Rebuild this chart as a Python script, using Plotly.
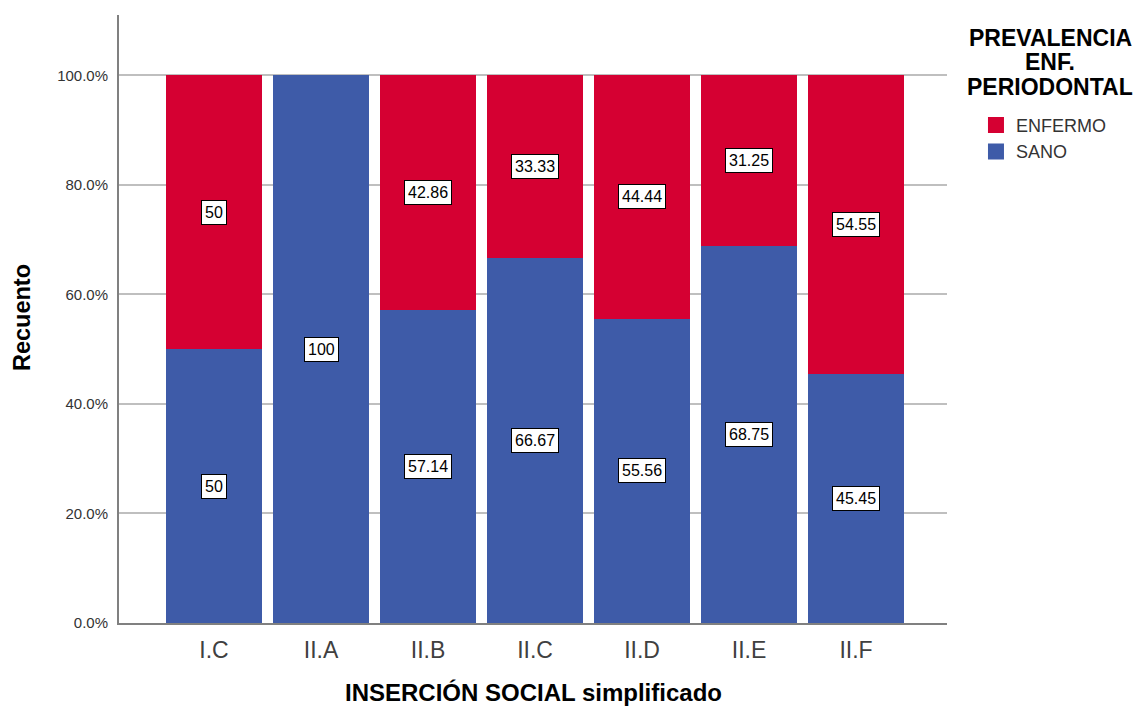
import plotly.graph_objects as go

categories = ["I.C", "II.A", "II.B", "II.C", "II.D", "II.E", "II.F"]
sano = [50, 100, 57.14, 66.67, 55.56, 68.75, 45.45]
enfermo = [50, 0, 42.86, 33.33, 44.44, 31.25, 54.55]
y_ticks = [0, 20, 40, 60, 80, 100]
y_tick_labels = ["0.0%", "20.0%", "40.0%", "60.0%", "80.0%", "100.0%"]
legend_title_lines = ["PREVALENCIA", "ENF.", "PERIODONTAL"]
x_title = "INSERCIÓN SOCIAL simplificado"
y_title = "Recuento"

RED = "#D50032"
BLUE = "#3E5BA8"
FONT = "Liberation Sans, Arial, sans-serif"

fig = go.Figure()
fig.add_trace(go.Bar(x=categories, y=sano, name="SANO", showlegend=False,
                     marker=dict(color=BLUE, line=dict(width=0))))
fig.add_trace(go.Bar(x=categories, y=enfermo, name="ENFERMO", showlegend=False,
                     marker=dict(color=RED, line=dict(width=0))))
# legend entries with larger square swatches
fig.add_trace(go.Scatter(x=[None], y=[None], mode="markers", name="ENFERMO",
                         marker=dict(symbol="square", size=17, color=RED)))
fig.add_trace(go.Scatter(x=[None], y=[None], mode="markers", name="SANO",
                         marker=dict(symbol="square", size=17, color=BLUE)))

annotations = []
for i, c in enumerate(categories):
    s, e = sano[i], enfermo[i]
    for val, ymid in ((s, s / 2), (e, s + e / 2)):
        if val > 0:
            txt = ("%.2f" % val).rstrip("0").rstrip(".")
            annotations.append(dict(
                x=c, y=ymid, xref="x", yref="y", text=txt, showarrow=False,
                font=dict(family=FONT, size=16, color="#000000"),
                bgcolor="white", bordercolor="black", borderwidth=1, borderpad=3,
            ))

for line, yy in zip(legend_title_lines, [0.9622, 0.9227, 0.8816]):
    annotations.append(dict(
        xref="paper", yref="paper", x=1.1244, y=yy, xanchor="center", yanchor="middle",
        text="<b>%s</b>" % line, showarrow=False,
        font=dict(family=FONT, size=23, color="black"),
    ))

annotations.append(dict(
    xref="paper", yref="paper", x=0.5, y=-0.1151, xanchor="center", yanchor="middle",
    text="<b>%s</b>" % x_title, showarrow=False,
    font=dict(family=FONT, size=24, color="black"),
))
annotations.append(dict(
    xref="paper", yref="paper", x=-0.1171, y=0.5016, xanchor="center", yanchor="middle",
    text="<b>%s</b>" % y_title, showarrow=False, textangle=-90,
    font=dict(family=FONT, size=23.5, color="black"),
))

fig.update_layout(
    annotations=annotations,
    barmode="stack",
    bargap=0.103,
    width=1141, height=706,
    margin=dict(l=119, r=194, t=15, b=83),
    paper_bgcolor="white", plot_bgcolor="white",
    font=dict(family=FONT),
    showlegend=True,
    legend=dict(
        x=1.035, y=0.849, xanchor="left", yanchor="top", traceorder="normal",
        font=dict(family=FONT, size=18, color="#333333"),
        tracegroupgap=0, itemwidth=30,
    ),
    xaxis=dict(
        range=[-0.888, 6.85], showgrid=False, showline=True, linecolor="#808080", linewidth=2,
        ticks="", ticklabelstandoff=5, automargin=False,
        tickfont=dict(family=FONT, size=23, color="#404040"),
    ),
    yaxis=dict(
        range=[0, 111], tickvals=y_ticks, ticktext=y_tick_labels, showgrid=True,
        gridcolor="#BFBFBF", gridwidth=1.5, showline=True, linecolor="#808080", linewidth=2,
        tickfont=dict(family=FONT, size=15, color="#333333"), ticks="", ticklabelstandoff=6,
        zeroline=False, automargin=False,
    ),
)

fig.write_html("out.html", config={"displayModeBar": False},
               post_script="document.body.style.margin='0';document.body.style.padding='0';")
